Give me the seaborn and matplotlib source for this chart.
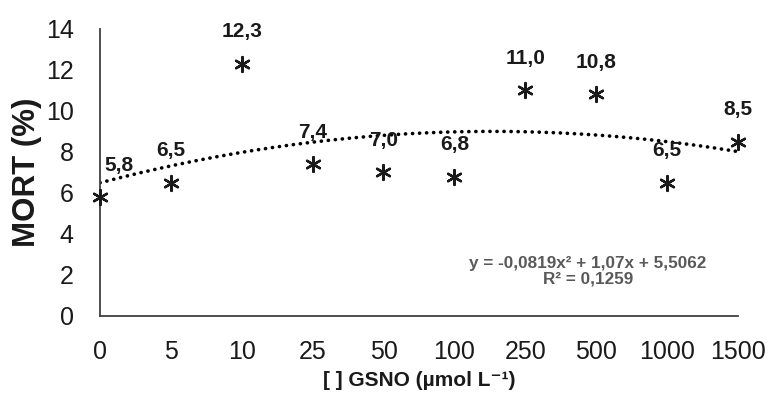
import numpy as np
import pandas as pd
import matplotlib
matplotlib.use("Agg")
import matplotlib.pyplot as plt
import seaborn as sns

# GSNO concentrations (category labels) and mortality values
doses = ["0", "5", "10", "25", "50", "100", "250", "500", "1000", "1500"]
mort = [5.8, 6.5, 12.3, 7.4, 7.0, 6.8, 11.0, 10.8, 6.5, 8.5]
value_labels = ["5,8", "6,5", "12,3", "7,4", "7,0", "6,8", "11,0", "10,8", "6,5", "8,5"]

# polynomial trend (order 2) coefficients over category index 1..n
coef_a, coef_b, coef_c = -0.0819, 1.07, 5.5062
equation = "y = -0,0819x² + 1,07x + 5,5062"
r2_text = "R² = 0,1259"

sns.set_theme(style="white")
plt.rcParams["font.family"] = ["Liberation Sans", "DejaVu Sans"]

pos = np.arange(1, len(doses) + 1)
df = pd.DataFrame({"pos": pos, "mort": mort, "dose": doses})

fig = plt.figure(figsize=(7.71, 4.01), dpi=100)
ax = fig.add_axes([0.1297, 0.212, 0.957 - 0.1297, 0.928 - 0.212])

# trend line
xt = np.linspace(1, len(doses), 200)
yt = coef_a * xt**2 + coef_b * xt + coef_c
trend = pd.DataFrame({"x": xt, "y": yt})
sns.lineplot(data=trend, x="x", y="y", ax=ax, color="black",
             linewidth=2.6, linestyle=(0, (0.05, 1.9)))
ax.lines[-1].set_dash_capstyle("round")

# observed points
sns.scatterplot(data=df, x="pos", y="mort", ax=ax, marker=(6, 2, 0),
                s=115, color="#1a1a1a", linewidth=1.7, clip_on=False,
                zorder=5)

# value labels above each point
for i, (x, y, lab) in enumerate(zip(pos, mort, value_labels)):
    dx = 14 if i == 0 else 0
    ax.annotate(lab, (x, y), xytext=(dx, 23), textcoords="offset points",
                ha="center", va="center", fontsize=15, fontweight="bold",
                color="#1a1a1a", annotation_clip=False)

ax.set_xlim(1, len(doses))
ax.set_ylim(0, 14)
ax.set_xticks(pos)
ax.set_xticklabels(doses)
ax.set_yticks(np.arange(0, 15, 2))
ax.tick_params(axis="both", length=0, labelsize=18, colors="#1a1a1a")
ax.tick_params(axis="y", pad=19)
ax.tick_params(axis="x", pad=17)

for side in ["top", "right"]:
    ax.spines[side].set_visible(False)
for side in ["left", "bottom"]:
    ax.spines[side].set_color("#404040")
    ax.spines[side].set_linewidth(1.3)

ax.set_xlabel("[ ] GSNO (µmol L⁻¹)", fontsize=15, fontweight="bold",
              color="#1a1a1a", labelpad=5)
ax.set_ylabel("MORT (%)", fontsize=22.5, fontweight="bold", color="#1a1a1a",
              labelpad=3)

ax.text(0.765, 0.155, equation + "\n" + r2_text, transform=ax.transAxes,
        ha="center", va="center", fontsize=12.3, fontweight="bold",
        color="#595959", linespacing=1.0)

fig.savefig("out.png", dpi=100)
